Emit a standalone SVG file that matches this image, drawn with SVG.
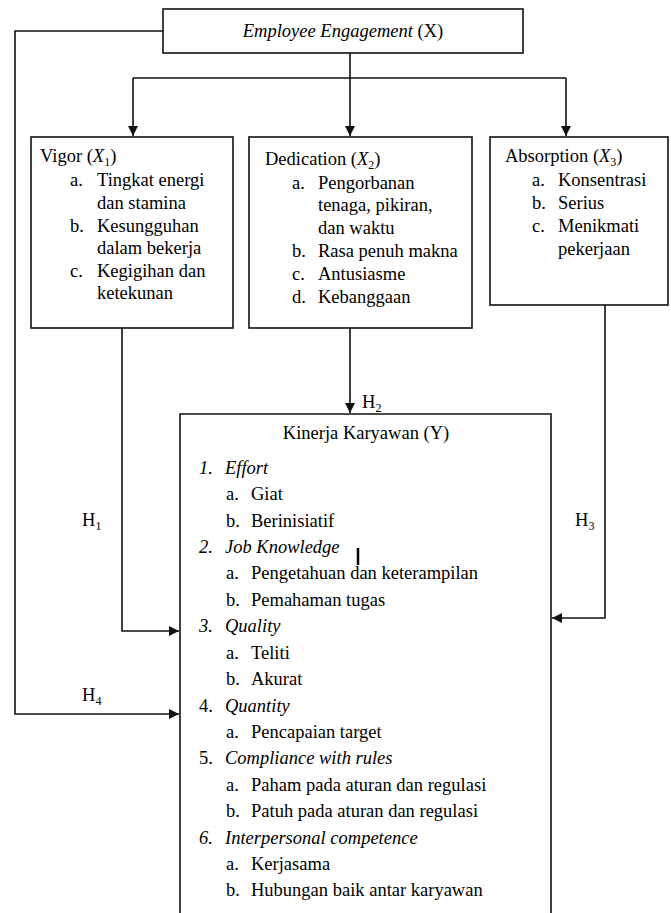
<svg xmlns="http://www.w3.org/2000/svg" width="671" height="913" viewBox="0 0 671 913">
<style>
text{font-family:"Liberation Serif","Times New Roman",serif;font-size:18.5px;fill:#000}
.i{font-style:italic}
.sub{font-size:12px}
.box{fill:#fff;stroke:#111;stroke-width:1.6}
.ln{fill:none;stroke:#111;stroke-width:1.6}
</style>
<defs>
<marker id="ah" viewBox="0 0 10 10" refX="10" refY="5" markerWidth="10" markerHeight="10" markerUnits="userSpaceOnUse" orient="auto">
<path d="M0,0 L10,5 L0,10 Z" fill="#111"/>
</marker>
</defs>
<g id="connectors">
<path class="ln" d="M163,31 H15 V714 H179" marker-end="url(#ah)"/>
<path class="ln" d="M350,53 V78"/>
<path class="ln" d="M133,78 H566"/>
<path class="ln" d="M133,78 V136" marker-end="url(#ah)"/>
<path class="ln" d="M350,78 V136" marker-end="url(#ah)"/>
<path class="ln" d="M566,78 V136" marker-end="url(#ah)"/>
<path class="ln" d="M122,328 V631 H179" marker-end="url(#ah)"/>
<path class="ln" d="M350,328 V413" marker-end="url(#ah)"/>
<path class="ln" d="M605,305 V618 H552" marker-end="url(#ah)"/>
<text x="82" y="526">H<tspan class="sub" dy="4">1</tspan></text>
<text x="362" y="408">H<tspan class="sub" dy="4">2</tspan></text>
<text x="575" y="526">H<tspan class="sub" dy="4">3</tspan></text>
<text x="82" y="701">H<tspan class="sub" dy="4">4</tspan></text>
</g>
<g id="employee-engagement">
<rect class="box" x="163" y="9" width="360" height="44"/>
<text x="343" y="37" text-anchor="middle"><tspan class="i">Employee Engagement</tspan> (X)</text>
</g>
<g id="vigor">
<rect class="box" x="31" y="137" width="202" height="191"/>
<text x="40" y="162">Vigor (<tspan class="i">X</tspan><tspan class="sub" dy="4">1</tspan><tspan dy="-4">)</tspan></text>
<text x="70" y="186">a.</text><text x="97" y="186">Tingkat energi</text>
<text x="97" y="209">dan stamina</text>
<text x="70" y="232">b.</text><text x="97" y="232">Kesungguhan</text>
<text x="97" y="254">dalam bekerja</text>
<text x="70" y="277">c.</text><text x="97" y="277">Kegigihan dan</text>
<text x="97" y="299">ketekunan</text>
</g>
<g id="dedication">
<rect class="box" x="249" y="137" width="223" height="191"/>
<text x="265" y="165">Dedication (<tspan class="i">X</tspan><tspan class="sub" dy="4">2</tspan><tspan dy="-4">)</tspan></text>
<text x="292" y="189">a.</text><text x="318" y="189">Pengorbanan</text>
<text x="318" y="211">tenaga, pikiran,</text>
<text x="318" y="234">dan waktu</text>
<text x="292" y="257">b.</text><text x="318" y="257">Rasa penuh makna</text>
<text x="292" y="280">c.</text><text x="318" y="280">Antusiasme</text>
<text x="292" y="303">d.</text><text x="318" y="303">Kebanggaan</text>
</g>
<g id="absorption">
<rect class="box" x="490" y="137" width="178" height="168"/>
<text x="505" y="162">Absorption (<tspan class="i">X</tspan><tspan class="sub" dy="4">3</tspan><tspan dy="-4">)</tspan></text>
<text x="532" y="186">a.</text><text x="558" y="186">Konsentrasi</text>
<text x="532" y="209">b.</text><text x="558" y="209">Serius</text>
<text x="532" y="232">c.</text><text x="558" y="232">Menikmati</text>
<text x="558" y="255">pekerjaan</text>
</g>
<g id="kinerja">
<path class="box" d="M180,915 V414 H551 V915"/>
<text x="366" y="439" text-anchor="middle">Kinerja Karyawan (Y)</text>
<text class="i" x="199" y="474">1.</text><text class="i" x="225" y="474">Effort</text>
<text x="226" y="500">a.</text><text x="251" y="500">Giat</text>
<text x="226" y="527">b.</text><text x="251" y="527">Berinisiatif</text>
<text class="i" x="199" y="553">2.</text><text class="i" x="225" y="553">Job Knowledge</text>
<text x="226" y="579">a.</text><text x="251" y="579">Pengetahuan dan keterampilan</text>
<text x="226" y="606">b.</text><text x="251" y="606">Pemahaman tugas</text>
<text class="i" x="199" y="632">3.</text><text class="i" x="225" y="632">Quality</text>
<text x="226" y="659">a.</text><text x="251" y="659">Teliti</text>
<text x="226" y="685">b.</text><text x="251" y="685">Akurat</text>
<text x="199" y="712">4.</text><text class="i" x="225" y="712">Quantity</text>
<text x="226" y="738">a.</text><text x="251" y="738">Pencapaian target</text>
<text x="199" y="764">5.</text><text class="i" x="225" y="764">Compliance with rules</text>
<text x="226" y="791">a.</text><text x="251" y="791">Paham pada aturan dan regulasi</text>
<text x="226" y="817">b.</text><text x="251" y="817">Patuh pada aturan dan regulasi</text>
<text class="i" x="199" y="844">6.</text><text class="i" x="225" y="844">Interpersonal competence</text>
<text x="226" y="870">a.</text><text x="251" y="870">Kerjasama</text>
<text x="226" y="896">b.</text><text x="251" y="896">Hubungan baik antar karyawan</text>
<path d="M358,548 V565" stroke="#000" stroke-width="2.5"/>
</g>
</svg>
